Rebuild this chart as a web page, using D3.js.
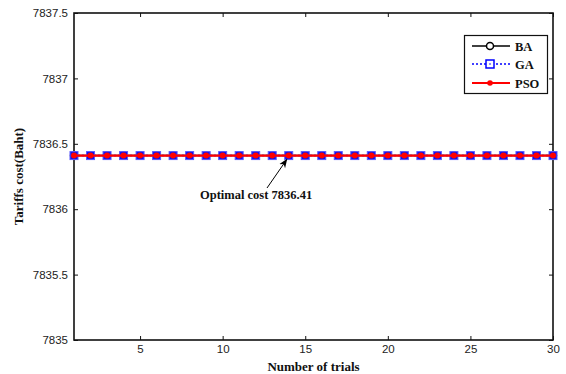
<!DOCTYPE html>
<meta charset="utf-8">
<style>
body { margin: 0; background: #fff; }
.tick text { font-family: 'Liberation Sans', Arial, sans-serif; font-size: 11.5px; fill: #222; }
.lab { font-family: 'Liberation Serif', 'Times New Roman', serif; font-weight: bold; font-size: 12.5px; fill: #111; }
.axlab { font-size: 13px; }
</style>
<body>
<svg width="566" height="374"></svg>
<script src="https://d3js.org/d3.v7.min.js"></script>
<script>
// trial numbers and the cost found by each algorithm
var trials = d3.range(1, 31);
var baCost  = trials.map(function() { return 7836.41; });
var gaCost  = trials.map(function() { return 7836.41; });
var psoCost = trials.map(function() { return 7836.41; });
var xTicks = [5, 10, 15, 20, 25, 30];
var yTicks = [7835, 7835.5, 7836, 7836.5, 7837, 7837.5];
var seriesNames = ["BA", "GA", "PSO"];

var svg = d3.select("svg");
// plot box (note: "top" is reserved on window, so use other names)
var pLeft = 74, pRight = 553, pTop = 13, pBottom = 340;

var x = d3.scaleLinear().domain([1, 30]).range([pLeft, pRight]);
var y = d3.scaleLinear().domain([7835, 7837.5]).range([pBottom, pTop]);

// axes, ticks pointing inward (matlab style)
svg.append("g").attr("transform", "translate(0," + pBottom + ")")
  .call(d3.axisBottom(x).tickValues(xTicks).tickSize(-4).tickPadding(5).tickFormat(d3.format("d")))
  .call(function(g) { g.select(".domain").remove(); });
svg.append("g").attr("transform", "translate(" + pLeft + ",0)")
  .call(d3.axisLeft(y).tickValues(yTicks).tickSize(-4).tickPadding(6).tickFormat(function(d) { return String(d); }))
  .call(function(g) { g.select(".domain").remove(); });
svg.append("g").attr("transform", "translate(0," + pTop + ")")
  .call(d3.axisTop(x).tickValues(xTicks).tickSize(-4).tickFormat(""))
  .call(function(g) { g.select(".domain").remove(); });
svg.append("g").attr("transform", "translate(" + pRight + ",0)")
  .call(d3.axisRight(y).tickValues(yTicks).tickSize(-4).tickFormat(""))
  .call(function(g) { g.select(".domain").remove(); });
svg.selectAll(".tick line").attr("stroke", "#111");

svg.append("rect").attr("x", pLeft).attr("y", pTop)
  .attr("width", pRight - pLeft).attr("height", pBottom - pTop)
  .attr("fill", "none").attr("stroke", "#111").attr("stroke-width", 1.6);

var line = d3.line().x(function(d, i) { return x(trials[i]); }).y(function(d) { return y(d); });

// BA
svg.append("path").datum(baCost).attr("d", line).attr("fill", "none").attr("stroke", "#000").attr("stroke-width", 1.5);
svg.append("g").selectAll("circle").data(baCost).join("circle")
  .attr("cx", function(d, i) { return x(trials[i]); }).attr("cy", y)
  .attr("r", 3.5).attr("fill", "none").attr("stroke", "#000").attr("stroke-width", 1.5);

// GA
svg.append("path").datum(gaCost).attr("d", line).attr("fill", "none").attr("stroke", "#0000ff")
  .attr("stroke-width", 1.5).attr("stroke-dasharray", "2,2");
svg.append("g").selectAll("rect").data(gaCost).join("rect")
  .attr("x", function(d, i) { return x(trials[i]) - 4; }).attr("y", function(d) { return y(d) - 4; })
  .attr("width", 8).attr("height", 8).attr("fill", "#1010ee").attr("stroke", "#5a5aff").attr("stroke-width", 1);

// PSO
svg.append("path").datum(psoCost).attr("d", line).attr("fill", "none").attr("stroke", "#ff0000").attr("stroke-width", 2.2);
svg.append("g").selectAll("circle").data(psoCost).join("circle")
  .attr("cx", function(d, i) { return x(trials[i]); }).attr("cy", y)
  .attr("r", 3).attr("fill", "#ff0000");

// axis labels
svg.append("text").attr("class", "lab axlab").attr("x", (pLeft + pRight) / 2).attr("y", 371)
  .attr("text-anchor", "middle").text("Number of trials");
svg.append("text").attr("class", "lab axlab").attr("transform", "translate(23," + ((pTop + pBottom) / 2) + ") rotate(-90)")
  .attr("text-anchor", "middle").text("Tariffs cost(Baht)");

// annotation
svg.append("defs").append("marker").attr("id", "ah").attr("viewBox", "0 0 10 10")
  .attr("refX", 9).attr("refY", 5).attr("markerWidth", 9).attr("markerHeight", 9)
  .attr("markerUnits", "userSpaceOnUse").attr("orient", "auto")
  .append("path").attr("d", "M0,1 L10,5 L0,9 L3,5 Z").attr("fill", "#000");
svg.append("line").attr("x1", 267).attr("y1", 188).attr("x2", x(14) - 2).attr("y2", y(psoCost[13]) + 4)
  .attr("stroke", "#000").attr("stroke-width", 1).attr("marker-end", "url(#ah)");
svg.append("text").attr("class", "lab").attr("x", 200).attr("y", 199).text("Optimal cost 7836.41");

// legend
var lg = svg.append("g");
lg.append("rect").attr("x", 464.5).attr("y", 35.5).attr("width", 83).attr("height", 58)
  .attr("fill", "#fff").attr("stroke", "#111").attr("stroke-width", 1.2);
var ly = [46, 64, 83];
seriesNames.forEach(function(name, i) {
  var yy = ly[i];
  var col = ["#000", "#0000ff", "#ff0000"][i];
  lg.append("line").attr("x1", 472).attr("x2", 510).attr("y1", yy).attr("y2", yy)
    .attr("stroke", col).attr("stroke-width", i === 2 ? 1.8 : 1.5)
    .attr("stroke-dasharray", i === 1 ? "2,2" : null);
  if (i === 0) lg.append("circle").attr("cx", 490).attr("cy", yy).attr("r", 3.5)
    .attr("fill", "#fff").attr("stroke", "#000").attr("stroke-width", 1.5);
  if (i === 1) {
    lg.append("rect").attr("x", 486).attr("y", yy - 4).attr("width", 8).attr("height", 8)
      .attr("fill", "#fff").attr("stroke", "#0000ff").attr("stroke-width", 1.5);
    lg.append("circle").attr("cx", 490).attr("cy", yy).attr("r", 0.8).attr("fill", "#0000ff");
  }
  if (i === 2) lg.append("circle").attr("cx", 490).attr("cy", yy).attr("r", 2.8).attr("fill", "#ff0000");
  lg.append("text").attr("class", "lab").attr("x", 515).attr("y", yy + 4.5).text(name);
});
</script>
</body>
